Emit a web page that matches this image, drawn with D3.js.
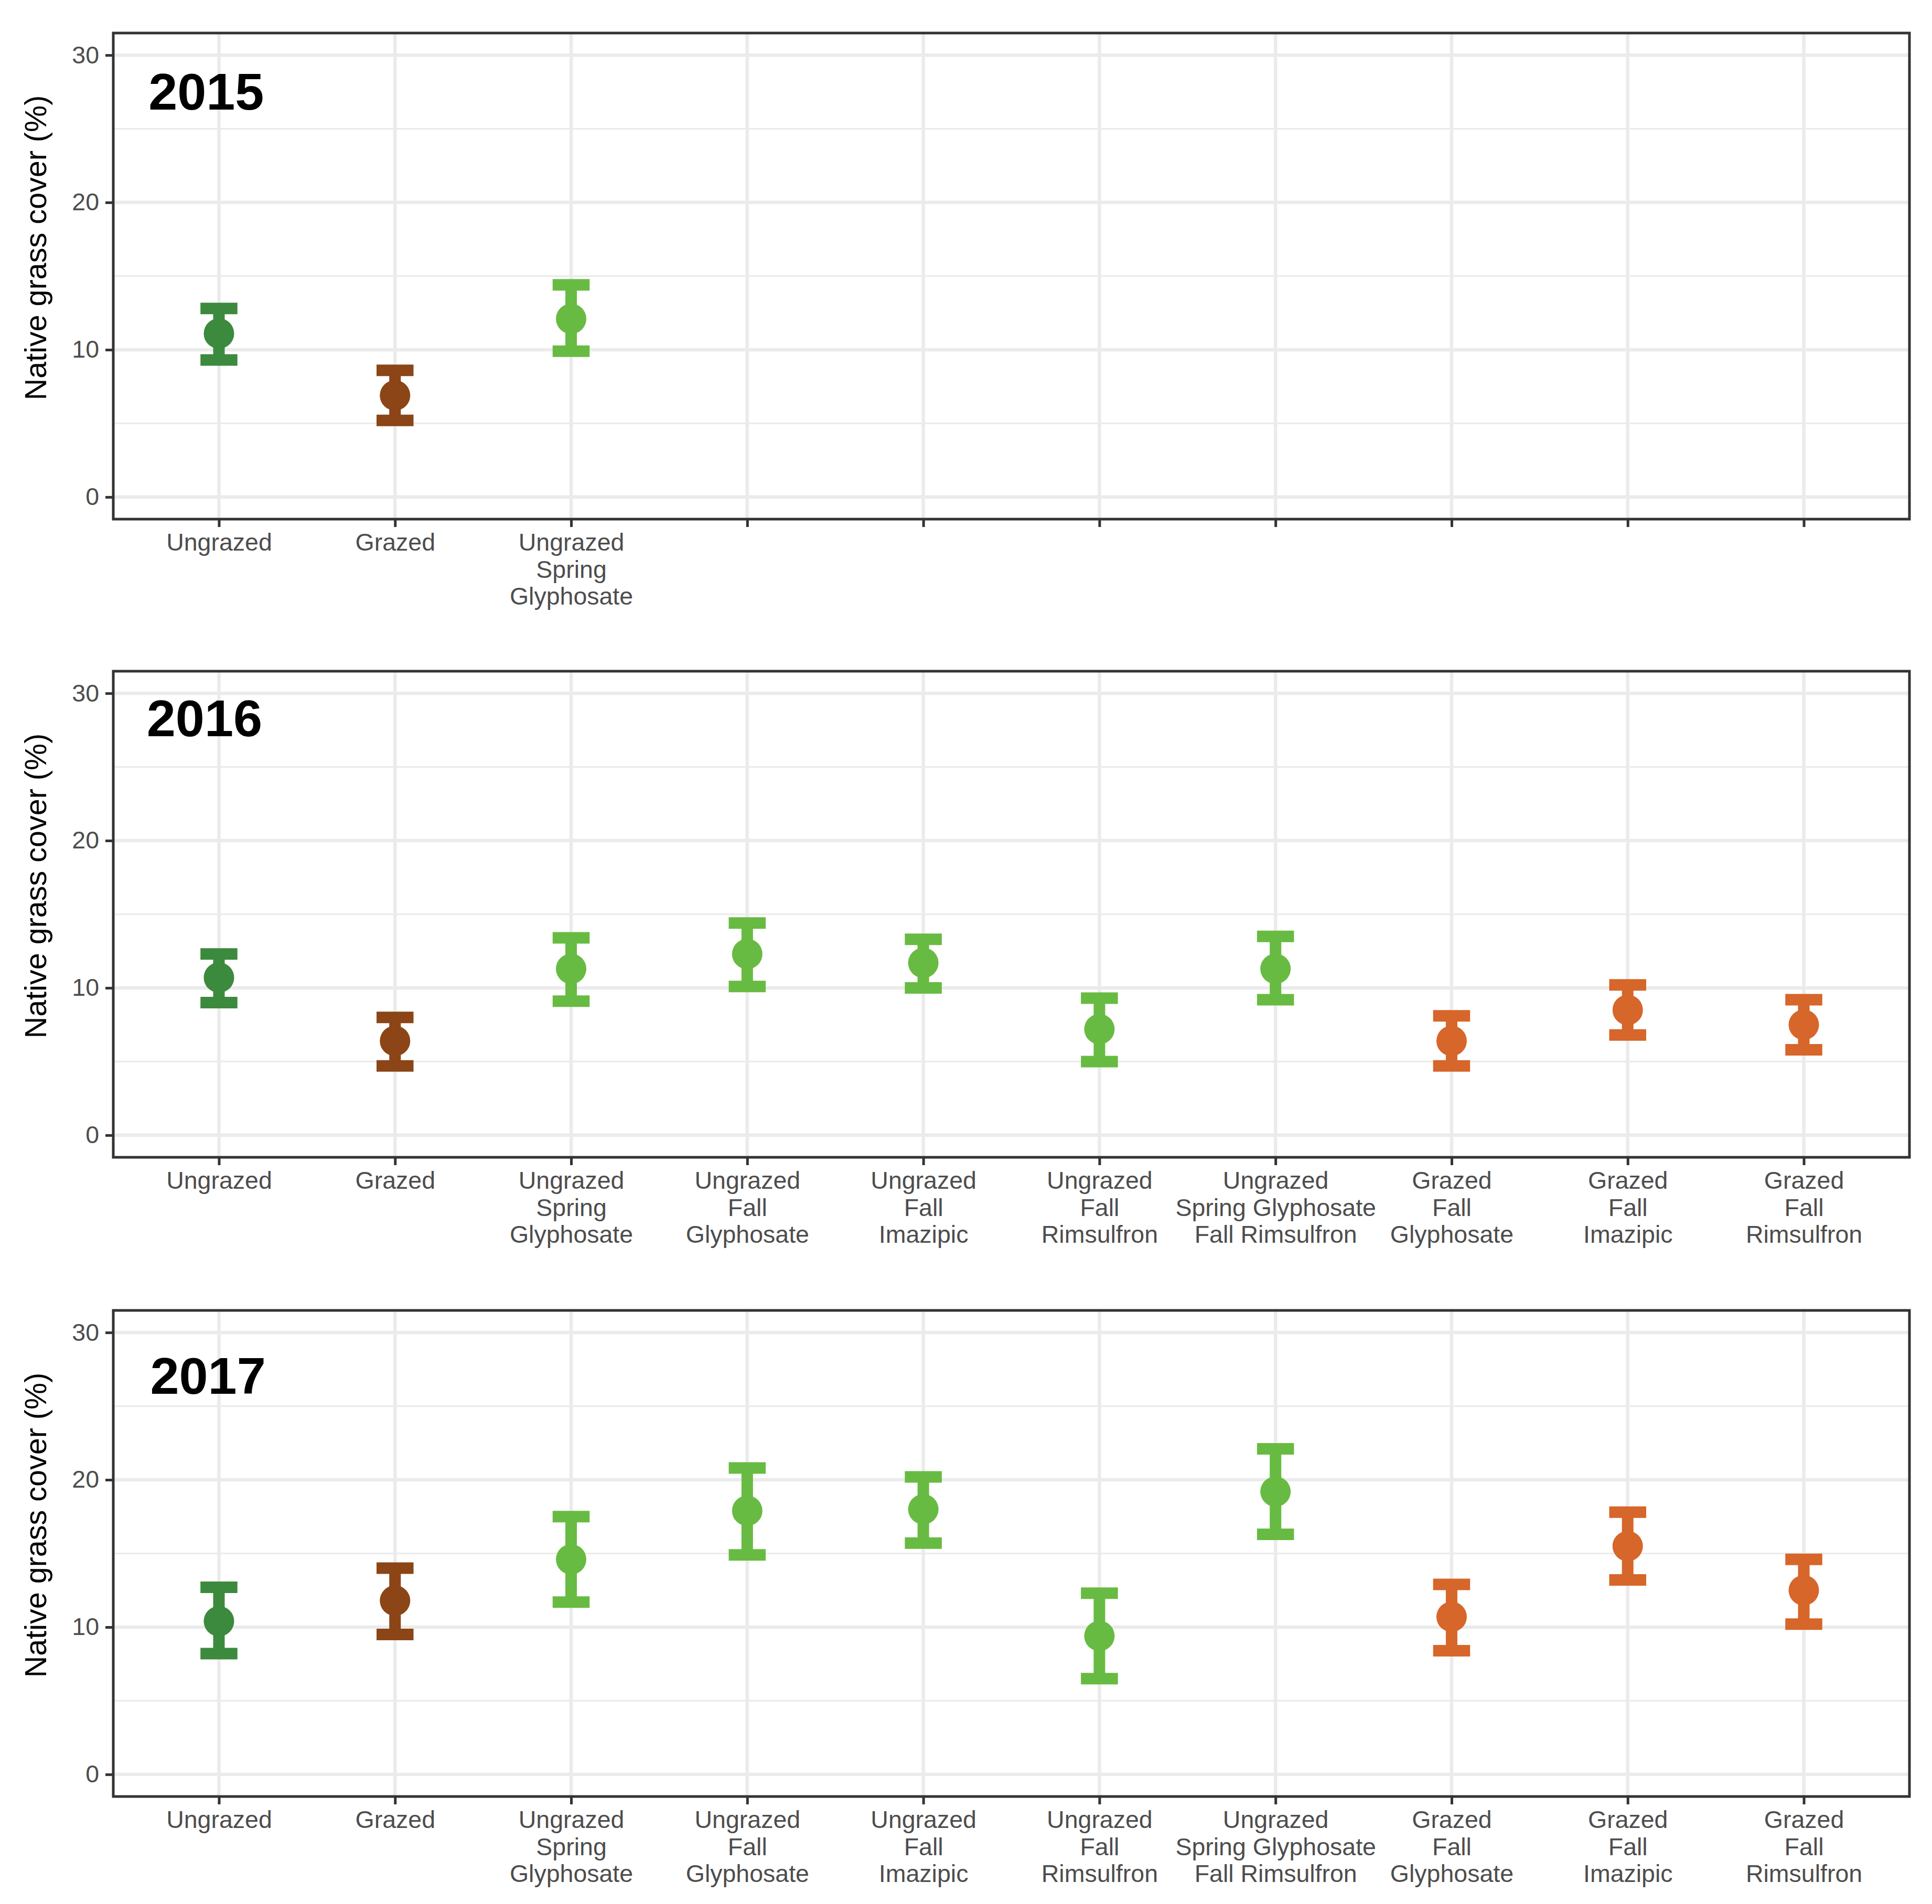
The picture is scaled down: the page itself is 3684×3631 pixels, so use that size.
<!DOCTYPE html>
<html lang="en">
  <head>
    <meta charset="UTF-8" />
    <title>Native grass cover by treatment, 2015-2017</title>
    <style>
      body {
        margin: 0;
        background: #fff;
      }
      svg {
        display: block;
        font-family: "Liberation Sans", Arial, sans-serif;
      }
      .grid-major {
        stroke: #ebebeb;
        stroke-width: 6.5px;
      }
      .grid-minor {
        stroke: #ebebeb;
        stroke-width: 3.2px;
      }
      .axis text {
        fill: #4d4d4d;
        font-size: 46.5px;
      }
      .axis line {
        stroke: #333;
        stroke-width: 5px;
      }
      .border {
        fill: none;
        stroke: #333;
        stroke-width: 5px;
      }
      .year {
        font-size: 99px;
        font-weight: bold;
        fill: #000;
      }
      .ytitle {
        font-size: 57.5px;
        fill: #000;
      }
    </style>
  </head>
  <body>
    <svg id="chart" width="3684" height="3631"></svg>

    <script src="https://d3js.org/d3.v7.min.js"></script>
    <script>
      // treatments, in axis order
      const categories = [
        "Ungrazed",
        "Grazed",
        "Ungrazed\nSpring\nGlyphosate",
        "Ungrazed\nFall\nGlyphosate",
        "Ungrazed\nFall\nImazipic",
        "Ungrazed\nFall\nRimsulfron",
        "Ungrazed\nSpring Glyphosate\nFall Rimsulfron",
        "Grazed\nFall\nGlyphosate",
        "Grazed\nFall\nImazipic",
        "Grazed\nFall\nRimsulfron",
      ];
      const treatmentColors = [
        "#3c8a3d", "#8b4516",
        "#68bb42", "#68bb42", "#68bb42", "#68bb42", "#68bb42",
        "#d6662a", "#d6662a", "#d6662a",
      ];

      const years = ["2015", "2016", "2017"];

      // native grass cover (%): mean and error bar limits
      const mean2015 = [11.1, 6.9, 12.1];
      const upper2015 = [12.8, 8.6, 14.4];
      const lower2015 = [9.3, 5.2, 9.9];

      const mean2016 = [10.7, 6.4, 11.3, 12.3, 11.7, 7.2, 11.3, 6.4, 8.5, 7.5];
      const upper2016 = [12.3, 8.0, 13.4, 14.4, 13.3, 9.3, 13.5, 8.1, 10.2, 9.2];
      const lower2016 = [9.0, 4.7, 9.1, 10.1, 10.0, 5.0, 9.2, 4.7, 6.8, 5.8];

      const mean2017 = [10.4, 11.8, 14.6, 17.9, 18.0, 9.4, 19.2, 10.7, 15.5, 12.5];
      const upper2017 = [12.7, 14.0, 17.5, 20.8, 20.2, 12.3, 22.1, 12.9, 17.8, 14.6];
      const lower2017 = [8.2, 9.5, 11.7, 14.9, 15.7, 6.5, 16.3, 8.4, 13.2, 10.2];

      const yTicks = [0, 10, 20, 30];
      const yMinor = [5, 15, 25];

      const series = [
        { mean: mean2015, upper: upper2015, lower: lower2015 },
        { mean: mean2016, upper: upper2016, lower: lower2016 },
        { mean: mean2017, upper: upper2017, lower: lower2017 },
      ];

      const svg = d3.select("#chart");
      const left = 216,
        right = 3641,
        panelH = 927,
        panelTops = [63, 1280, 2499];
      // where the year tag sits, in data units
      const tagX = [0.6, 0.59, 0.61],
        tagY = [26.3, 27.1, 25.85];

      const x = d3.scalePoint().domain(categories).range([left, right]).padding(0.6);
      const step = x.step();
      const xNum = d3.scaleLinear().domain([1, categories.length]).range([x(categories[0]), x(categories[categories.length - 1])]);

      years.forEach((year, p) => {
        const top = panelTops[p],
          bottom = top + panelH;
        const y = d3.scaleLinear().domain([-1.5, 31.5]).range([bottom, top]);
        const s = series[p];
        const rows = s.mean.map((m, i) => ({
          cat: categories[i],
          color: treatmentColors[i],
          mean: m,
          upper: s.upper[i],
          lower: s.lower[i],
        }));

        const g = svg.append("g");

        // grid
        g.selectAll(".ymin")
          .data(yMinor)
          .join("line")
          .attr("class", "grid-minor")
          .attr("x1", left).attr("x2", right)
          .attr("y1", (d) => y(d)).attr("y2", (d) => y(d));
        g.selectAll(".ymaj")
          .data(yTicks)
          .join("line")
          .attr("class", "grid-major")
          .attr("x1", left).attr("x2", right)
          .attr("y1", (d) => y(d)).attr("y2", (d) => y(d));
        g.selectAll(".xmaj")
          .data(categories)
          .join("line")
          .attr("class", "grid-major")
          .attr("x1", (d) => x(d)).attr("x2", (d) => x(d))
          .attr("y1", top).attr("y2", bottom);

        // error bars
        const half = step * 0.105;
        const eb = g.selectAll(".eb").data(rows).join("g").attr("stroke", (d) => d.color).attr("stroke-width", 22);
        eb.append("line")
          .attr("x1", (d) => x(d.cat)).attr("x2", (d) => x(d.cat))
          .attr("y1", (d) => y(d.lower)).attr("y2", (d) => y(d.upper));
        eb.append("line")
          .attr("x1", (d) => x(d.cat) - half).attr("x2", (d) => x(d.cat) + half)
          .attr("y1", (d) => y(d.upper)).attr("y2", (d) => y(d.upper));
        eb.append("line")
          .attr("x1", (d) => x(d.cat) - half).attr("x2", (d) => x(d.cat) + half)
          .attr("y1", (d) => y(d.lower)).attr("y2", (d) => y(d.lower));

        // points
        g.selectAll(".pt")
          .data(rows)
          .join("circle")
          .attr("cx", (d) => x(d.cat))
          .attr("cy", (d) => y(d.mean))
          .attr("r", 29)
          .attr("fill", (d) => d.color);

        // year tag
        g.append("text")
          .attr("class", "year")
          .attr("x", xNum(tagX[p]))
          .attr("y", y(tagY[p]))
          .text(year);

        // axes
        const yAxis = g.append("g")
          .attr("class", "axis")
          .attr("transform", `translate(${left},0)`)
          .call(d3.axisLeft(y).tickValues(yTicks).tickSize(15).tickPadding(12));
        yAxis.select(".domain").remove();

        const shown = new Set(rows.map((d) => d.cat));
        const xAxis = g.append("g")
          .attr("class", "axis")
          .attr("transform", `translate(0,${bottom})`)
          .call(d3.axisBottom(x).tickSize(15).tickPadding(12));
        xAxis.select(".domain").remove();
        xAxis.selectAll(".tick text").each(function (d) {
          const t = d3.select(this).text("").attr("dy", null);
          if (!shown.has(d)) return;
          d.split("\n").forEach((line, k) => {
            t.append("tspan")
              .attr("x", 0)
              .attr("dy", k === 0 ? "0.71em" : "1.11em")
              .text(line);
          });
        });

        g.append("rect")
          .attr("class", "border")
          .attr("x", left).attr("y", top)
          .attr("width", right - left).attr("height", panelH);

        // the title sits a little above the panel centre
        g.append("text")
          .attr("class", "ytitle")
          .attr("text-anchor", "middle")
          .attr("transform", `translate(88,${(top + bottom) / 2 - 54}) rotate(-90)`)
          .text("Native grass cover (%)");
      });
    </script>
  </body>
</html>
